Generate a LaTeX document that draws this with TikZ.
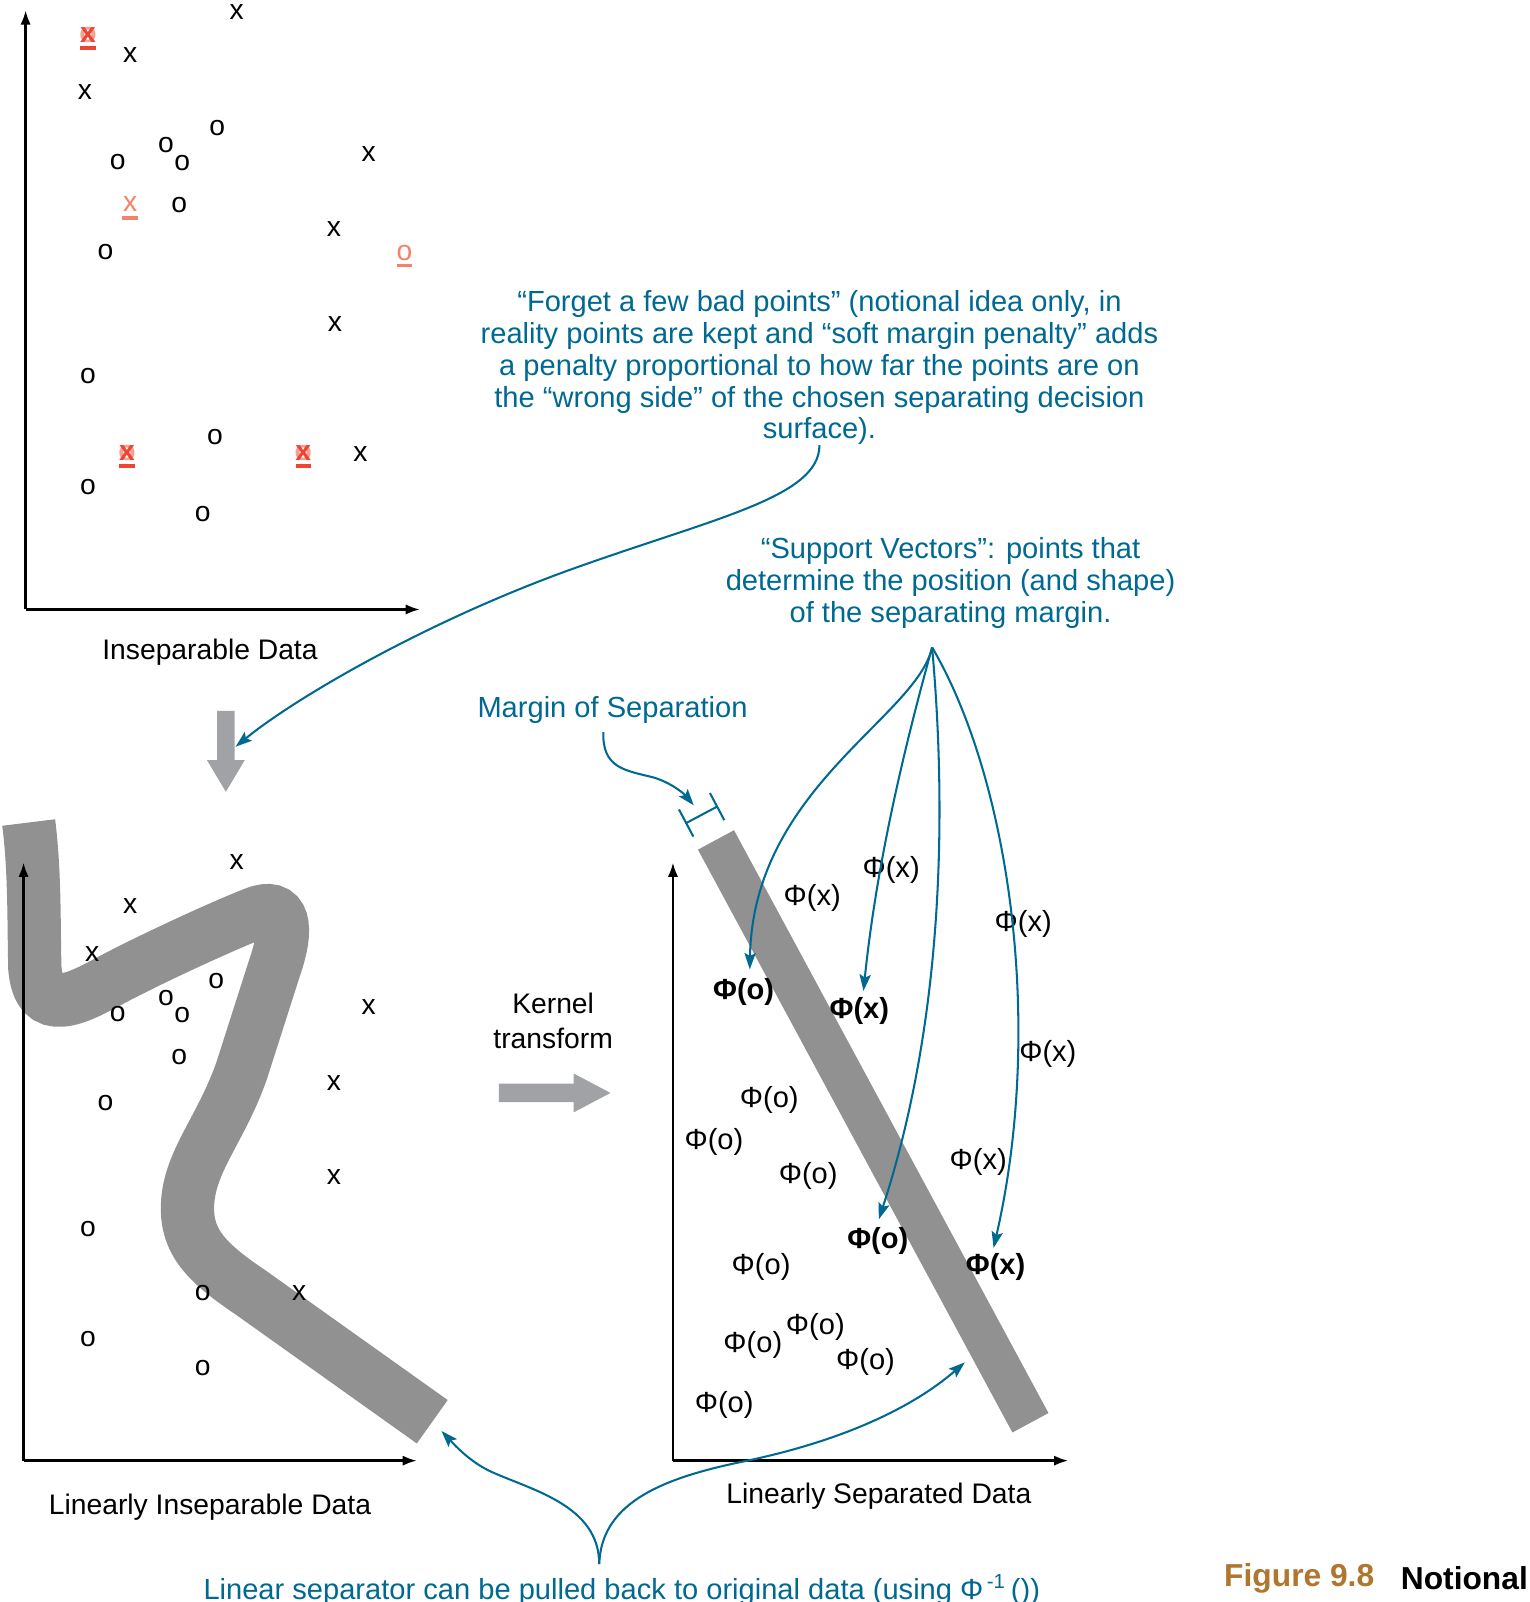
\documentclass[tikz,border=0pt]{standalone}
\usepackage{fontspec}
\setmainfont{Liberation Sans}
\usepackage{tikz}
\usetikzlibrary{arrows.meta, positioning, calc}
\definecolor{noteblue}{RGB}{0,105,146}
\definecolor{bandgray}{RGB}{146,145,146}
\definecolor{blockgray}{RGB}{160,162,166}
\definecolor{badred}{RGB}{238,68,52}
\definecolor{salmon}{RGB}{242,130,105}
\definecolor{figbrown}{RGB}{176,118,48}
\newcommand{\ptsize}{\fontsize{13.8}{15.5}\selectfont}
\newcommand{\notesize}{\fontsize{14.2}{15.5}\selectfont}
\tikzstyle{point} = [inner sep=0pt, font=\ptsize]
\tikzstyle{badpoint} = [point, text=badred, font=\ptsize\bfseries]
\tikzstyle{phi} = [point, font=\fontsize{14.2}{16}\selectfont]
\tikzstyle{bphi} = [point, font=\fontsize{14.2}{16}\selectfont\bfseries]
\tikzstyle{note} = [inner sep=0pt, font=\notesize, text=noteblue, align=center]
\tikzstyle{ubar} = [line width=1.7pt]
\tikzstyle{axis} = [line width=1.2pt, -{Latex[length=7pt,width=5pt]}]
\tikzstyle{band} = [line width=26pt, draw=bandgray]
\tikzstyle{arrow} = [draw=noteblue, line width=1pt, -{Stealth[length=8pt,width=5.5pt,inset=1.5pt]}]
\tikzstyle{line} = [draw=noteblue, line width=1pt]

\begin{document}
\begin{tikzpicture}[x=0.5pt, y=-0.5pt]
        \useasboundingbox (0,0) rectangle (1493,1564);

        % Inseparable data
        \coordinate (ax1) at (25,595);
        \draw[axis] (ax1) -- ++(0,-585);
        \draw[axis] (ax1) -- ++(385,0);
        \node[point] (insep) at (205,637) {Inseparable Data};

        \node[point] (tx1) at (231,12) {x};
        \node[point] (tx2) at (127,54) {x};
        \node[point] (tx3) at (83,90) {x};
        \node[point] (tx4) at (360,150) {x};
        \node[point] (tx5) at (326,224) {x};
        \node[point] (tx6) at (327,316) {x};
        \node[point] (tx7) at (352,443) {x};
        \node[point] (to1) at (212,125) {o};
        \node[point] (to2) at (162,142) {o};
        \node[point] (to3) at (178,159) {o};
        \node[point] (to4) at (115,158) {o};
        \node[point] (to5) at (175,200) {o};
        \node[point] (to6) at (103,246) {o};
        \node[point] (to7) at (86,367) {o};
        \node[point] (to8) at (210,427) {o};
        \node[point] (to9) at (86,475) {o};
        \node[point] (to10) at (198,502) {o};

        % Bad points
        \node[badpoint, text=salmon, opacity=0.75] (bad1o) at (86,34) {o};
        \node[badpoint] (bad1) at (86,34) {x};
        \draw[ubar, badred] ($(bad1)+(-7.5,13)$) -- ++(15,0);
        \node[badpoint, text=salmon, opacity=0.75] (bad2o) at (124,442) {o};
        \node[badpoint] (bad2) at (124,442) {x};
        \draw[ubar, badred] ($(bad2)+(-7.5,13)$) -- ++(15,0);
        \node[badpoint, text=salmon, opacity=0.75] (bad3o) at (296,442) {o};
        \node[badpoint] (bad3) at (296,442) {x};
        \draw[ubar, badred] ($(bad3)+(-7.5,13)$) -- ++(15,0);
        \node[point, text=salmon] (bad4) at (127,199) {x};
        \draw[ubar, salmon] ($(bad4)+(-7.5,14)$) -- ++(15,0);
        \node[point, text=salmon] (bad5) at (395,247) {o};
        \draw[ubar, salmon] ($(bad5)+(-7.5,12)$) -- ++(15,0);

        % Forget note
        \node[note] (forget) at (800,359) {``Forget a few bad points'' (notional idea only, in\\reality points are kept and ``soft margin penalty'' adds\\a penalty proportional to how far the points are on\\the ``wrong side'' of the chosen separating decision\\surface).};

        % Down arrow
        \fill[blockgray] (212,694) -- (229,694) -- (229,742) -- (239,742) -- (220.5,773) -- (202,742) -- (212,742) -- cycle;
        \coordinate (downtip) at (230,729);
        \draw[arrow] (forget.south) .. controls (800,485) and (700,505) .. (560,555) .. controls (420,605) and (290,680) .. (downtip);

        % Linearly inseparable data
        \draw[band] (28,803) .. controls (34,850) and (33,900) .. (34,945)
            .. controls (38,995) and (75,975) .. (110,956)
            .. controls (150,935) and (215,905) .. (248,892)
            .. controls (278,880) and (282,905) .. (268,945)
            -- (236,1045)
            .. controls (215,1105) and (183,1135) .. (183,1180)
            .. controls (183,1215) and (205,1235) .. (245,1262)
            -- (422,1388);
        \coordinate (ax2) at (23,1426);
        \draw[axis] (ax2) -- ++(0,-584);
        \draw[axis] (ax2) -- ++(384,0);
        \node[point] (linsep) at (205,1471) {Linearly Inseparable Data};

        \node[point] (bx1) at (231,842) {x};
        \node[point] (bx2) at (127,885) {x};
        \node[point] (bx3) at (90,931) {x};
        \node[point] (bx4) at (360,983) {x};
        \node[point] (bx5) at (326,1057) {x};
        \node[point] (bx6) at (326,1149) {x};
        \node[point] (bx7) at (292,1262) {x};
        \node[point] (bo1) at (211,958) {o};
        \node[point] (bo2) at (162,974) {o};
        \node[point] (bo3) at (178,991) {o};
        \node[point] (bo4) at (115,990) {o};
        \node[point] (bo5) at (175,1032) {o};
        \node[point] (bo6) at (103,1077) {o};
        \node[point] (bo7) at (86,1200) {o};
        \node[point] (bo8) at (198,1262) {o};
        \node[point] (bo9) at (86,1307) {o};
        \node[point] (bo10) at (198,1336) {o};

        % Kernel transform
        \node[point, align=center, font=\fontsize{13.8}{17}\selectfont] (kernel) at (540,997) {Kernel\\transform};
        \fill[blockgray] (487,1058) -- (560,1058) -- (560,1048) -- (596,1067) -- (560,1086) -- (560,1076) -- (487,1076) -- cycle;

        % Linearly separated data
        \draw[line width=20pt, bandgray] (699,820) -- (1006,1389);
        \coordinate (ax3) at (657,1426);
        \draw[axis] (ax3) -- ++(0,-584);
        \draw[axis] (ax3) -- ++(386,0);
        \node[point] (linsepd) at (858,1461) {Linearly Separated Data};

        \node[phi] (px1) at (793,877) {Φ(x)};
        \node[phi] (px2) at (870,849) {Φ(x)};
        \node[phi] (px3) at (999,902) {Φ(x)};
        \node[phi] (px4) at (1023,1029) {Φ(x)};
        \node[phi] (px5) at (955,1134) {Φ(x)};
        \node[phi] (po1) at (751,1074) {Φ(o)};
        \node[phi] (po2) at (697,1115) {Φ(o)};
        \node[phi] (po3) at (789,1148) {Φ(o)};
        \node[phi] (po4) at (743,1237) {Φ(o)};
        \node[phi] (po5) at (796,1295) {Φ(o)};
        \node[phi] (po6) at (735,1313) {Φ(o)};
        \node[phi] (po7) at (845,1330) {Φ(o)};
        \node[phi] (po8) at (707,1372) {Φ(o)};
        \node[bphi] (svo1) at (726,968) {Φ(o)};
        \node[bphi] (svx1) at (839,987) {Φ(x)};
        \node[bphi] (svo2) at (857,1212) {Φ(o)};
        \node[bphi] (svx2) at (972,1237) {Φ(x)};

        % Margin of separation
        \node[note] (margin) at (598,693) {Margin of Separation};
        \coordinate (m1) at (669,804);
        \coordinate (m2) at (701,787);
        \draw[line, {Bar[width=15pt]}-{Bar[width=15pt]}] (m1) -- (m2);
        \draw[arrow, shorten >=6pt] ($(margin.south)+(-9,8)$) .. controls (588,750) and (610,752) .. (638,759) .. controls (655,764) and (668,775) .. ($(m1)!0.5!(m2)$);

        % Support vectors
        \node[note] (support) at (928,569) {``Support Vectors'': points that\\determine the position (and shape)\\of the separating margin.};
        \coordinate (svfan) at (910,632);
        \draw[arrow] (svfan) .. controls (895,700) and (735,770) .. ($(svo1.north)+(6,-8)$);
        \draw[arrow] (svfan) .. controls (880,740) and (855,850) .. ($(svx1.north)+(4,-6)$);
        \draw[arrow] (svfan) .. controls (925,800) and (920,1000) .. ($(svo2.north)+(1,-8)$);
        \draw[arrow] (svfan) .. controls (985,760) and (1020,1000) .. ($(svx2.north)+(-2,-5)$);

        % Pulled back
        \node[note] (pull) at (607,1552) {Linear separator can be pulled back to original data (using Φ\textsuperscript{\,-1}\,())};
        \coordinate (pullfan) at (585,1527);
        \coordinate (bandend) at (431,1397);
        \coordinate (barpt) at (942,1330);
        \draw[arrow] (pullfan) .. controls (585,1470) and (520,1455) .. (480,1437) .. controls (460,1428) and (445,1412) .. (bandend);
        \draw[arrow] (pullfan) .. controls (587,1470) and (640,1445) .. (720,1428) .. controls (820,1408) and (890,1375) .. (barpt);

        % Figure caption
        \node[inner sep=0pt, anchor=east, font=\fontsize{15.5}{17}\selectfont\bfseries, text=figbrown] (fignum) at (1342,1541) {Figure 9.8};
        \node[inner sep=0pt, anchor=east, font=\fontsize{15.5}{17}\selectfont\bfseries] (figtitle) at (1492,1541) {Notional};
    \end{tikzpicture}
\end{document}
